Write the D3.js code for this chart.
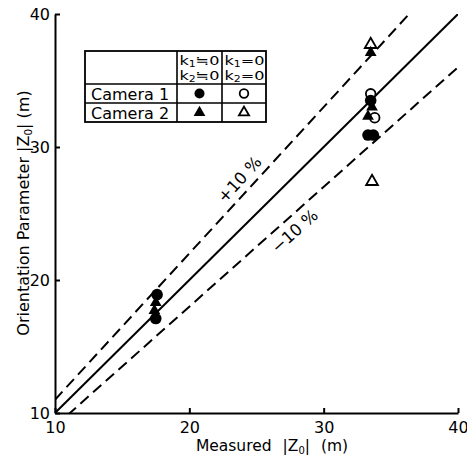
<!DOCTYPE html>
<html>
<head>
<meta charset="utf-8">
<script src="https://cdn.jsdelivr.net/npm/d3@7"></script>
<style>
  body { margin: 0; background: #fff; }
  text { font-family: "DejaVu Sans", sans-serif; fill: #000; }
</style>
</head>
<body>
<div id="root"></div>
<script>
// DATA
let ticks = [10, 20, 30, 40];
// camera 1, k1,k2 not 0 (filled circle)
let cam1Dist = [[17.6, 18.9], [17.5, 17.1], [33.3, 30.9], [33.7, 30.9], [33.5, 33.5]];
// camera 1, k1=k2=0 (open circle)
let cam1Zero = [[33.5, 34.0], [33.8, 32.2]];
// camera 2, k1,k2 not 0 (filled triangle)
let cam2Dist = [[17.5, 18.3], [17.4, 17.7], [33.5, 37.1], [33.6, 33.0], [33.3, 32.3]];
// camera 2, k1=k2=0 (open triangle)
let cam2Zero = [[33.5, 37.7], [33.6, 27.4]];
let lineFactors = [1, 1.1, 0.9];
let lineLabels = [{ text: "+10 %", x: 23.8, y: 27.5, k: 1.1 }, { text: "\u221210 %", x: 27.9, y: 23.6, k: 0.9 }];
let rowNames = ['Camera 1', 'Camera 2'];

let W = 467, H = 456;
let mLeft = 55, mRight = 458, mTop = 14, mBottom = 413;

let svg = d3.select('#root').append('svg')
  .attr('width', W).attr('height', H);

let x = d3.scaleLinear().domain([10, 40]).range([mLeft, mRight]);
let y = d3.scaleLinear().domain([10, 40]).range([mBottom, mTop]);

svg.append('clipPath').attr('id', 'plot')
  .append('rect').attr('x', mLeft).attr('y', mTop)
  .attr('width', mRight - mLeft).attr('height', mBottom - mTop);

// reference lines
let lineGen = d3.line().x(d => x(d[0])).y(d => y(d[1]));
svg.append('g').attr('clip-path', 'url(#plot)')
  .selectAll('path').data(lineFactors).enter().append('path')
  .attr('d', k => lineGen([[10, 10 * k], [40, 40 * k]]))
  .attr('fill', 'none').attr('stroke', '#000').attr('stroke-width', 2)
  .attr('stroke-dasharray', k => k == 1 ? null : '11,6');

lineLabels.forEach(l => {
  let ang = Math.atan2(y(l.k * 10) - y(l.k * 40), x(40) - x(10)) * 180 / Math.PI;
  svg.append('text')
    .attr('transform', `translate(${x(l.x)},${y(l.y)}) rotate(${-ang})`)
    .attr('text-anchor', 'middle').attr('dominant-baseline', 'middle')
    .style('font-size', '16.5px').text(l.text);
});

// axes
let xAxis = svg.append('g').attr('transform', `translate(0,${mBottom})`)
  .call(d3.axisBottom(x).tickValues(ticks).tickSizeInner(-5).tickSizeOuter(0).tickPadding(6));
let yAxis = svg.append('g').attr('transform', `translate(${mLeft},0)`)
  .call(d3.axisLeft(y).tickValues(ticks).tickSizeInner(-5).tickSizeOuter(0).tickPadding(5));
[xAxis, yAxis].forEach(g => {
  g.selectAll('path, line').attr('stroke', '#000').attr('stroke-width', 2);
  g.selectAll('text').style('font-size', '16px').style('font-family', '"DejaVu Sans", sans-serif');
});
xAxis.selectAll('text').attr('dy', '0.85em');

// axis titles
let xt = svg.append('text').attr('x', 272).attr('y', 451)
  .attr('text-anchor', 'middle').style('font-size', '15.5px');
xt.append('tspan').text('Measured ');
xt.append('tspan').attr('dx', 6).text('|Z');
xt.append('tspan').attr('dy', 3).style('font-size', '10px').text('0');
xt.append('tspan').attr('dy', -3).text('| ');
xt.append('tspan').attr('dx', 6).text('(m)');

let yt = svg.append('text').attr('transform', 'translate(29,213) rotate(-90)')
  .attr('text-anchor', 'middle').style('font-size', '16px');
yt.append('tspan').text('Orientation Parameter |Z');
yt.append('tspan').attr('dy', 3).style('font-size', '10.5px').text('0');
yt.append('tspan').attr('dy', -3).text('| (m)');

// markers
let tri = d3.symbol().type(d3.symbolTriangle).size(60);
function drawPoints(data, shape, filled) {
  let g = svg.append('g');
  if (shape == 'circle') {
    g.selectAll('circle').data(data).enter().append('circle')
      .attr('cx', d => x(d[0])).attr('cy', d => y(d[1]))
      .attr('r', filled ? 5.8 : 4.8)
      .attr('fill', filled ? '#000' : '#fff')
      .attr('stroke', '#000').attr('stroke-width', filled ? 0 : 1.8);
  } else {
    g.selectAll('path').data(data).enter().append('path')
      .attr('transform', d => `translate(${x(d[0])},${y(d[1])})`)
      .attr('d', tri)
      .attr('fill', filled ? '#000' : '#fff')
      .attr('stroke', '#000').attr('stroke-width', filled ? 0 : 1.8);
  }
}
drawPoints(cam2Zero, 'tri', false);
drawPoints(cam1Zero, 'circle', false);
drawPoints(cam1Dist, 'circle', true);
drawPoints(cam2Dist, 'tri', true);

// legend table
let tl = 85, tr = 266, tt = 51, tb = 122;
let c1 = 177, c2 = 222, r1 = 84, r2 = 103;
let leg = svg.append('g');
leg.append('rect').attr('x', tl).attr('y', tt).attr('width', tr - tl).attr('height', tb - tt)
  .attr('fill', '#fff').attr('stroke', '#000').attr('stroke-width', 1.8);
[[c1, tt, c1, tb], [c2, tt, c2, tb], [tl, r1, tr, r1], [tl, r2, tr, r2]].forEach(s => {
  leg.append('line').attr('x1', s[0]).attr('y1', s[1]).attr('x2', s[2]).attr('y2', s[3])
    .attr('stroke', '#000').attr('stroke-width', 1.6);
});
let heads = [['\u2252', c1], ['=', c2]];
heads.forEach(h => {
  [1, 2].forEach((n, i) => {
    let t = leg.append('text').attr('x', h[1] + 2.5).attr('y', tt + 14 + i * 15)
      .attr('textLength', 40).attr('lengthAdjust', 'spacingAndGlyphs')
      .style('font-size', '12.5px');
    t.append('tspan').text('k');
    t.append('tspan').attr('dy', 1.5).style('font-size', '8.5px').text(n);
    t.append('tspan').attr('dy', -1.5).text(h[0] + '0');
  });
});
rowNames.forEach((r, i) => {
  leg.append('text').attr('x', 91).attr('y', i == 0 ? r2 - 3 : tb - 3)
    .style('font-size', '16px').text(r);
});
let cy1 = (r1 + r2) / 2, cy2 = (r2 + tb) / 2;
leg.append('circle').attr('cx', (c1 + c2) / 2).attr('cy', cy1).attr('r', 5).attr('fill', '#000');
leg.append('circle').attr('cx', (c2 + tr) / 2).attr('cy', cy1).attr('r', 4.3)
  .attr('fill', '#fff').attr('stroke', '#000').attr('stroke-width', 1.8);
leg.append('path').attr('transform', `translate(${(c1 + c2) / 2},${cy2})`).attr('d', tri).attr('fill', '#000');
leg.append('path').attr('transform', `translate(${(c2 + tr) / 2},${cy2})`).attr('d', d3.symbol().type(d3.symbolTriangle).size(45))
  .attr('fill', '#fff').attr('stroke', '#000').attr('stroke-width', 1.8);
</script>
</body>
</html>
